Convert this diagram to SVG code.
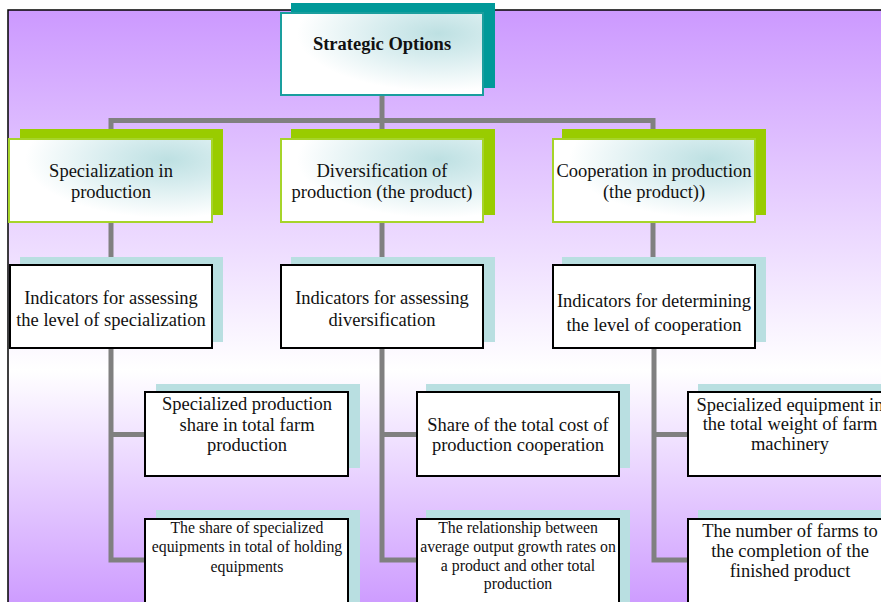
<svg xmlns="http://www.w3.org/2000/svg" width="881" height="602" viewBox="0 0 881 602">
<defs>
<linearGradient id="bg" x1="0" y1="0" x2="0" y2="1">
<stop offset="0" stop-color="#cc99ff"/>
<stop offset="0.6" stop-color="#ffffff"/>
<stop offset="1" stop-color="#cc99ff"/>
</linearGradient>
<radialGradient id="tealfill" cx="0.78" cy="0.25" r="0.7">
<stop offset="0" stop-color="#bde0e2"/>
<stop offset="0.4" stop-color="#d6ecee"/>
<stop offset="1" stop-color="#ffffff"/>
</radialGradient>
<style>
.conn{fill:none;stroke:#808080;stroke-width:5;stroke-linejoin:miter;stroke-linecap:butt}
text{font-family:'Liberation Serif','Times New Roman',serif;fill:#111;text-anchor:middle}
.t{font-size:18.5px}
.s{font-size:15.8px}
.b{font-size:18.5px;font-weight:bold}
.shTop{fill:#009999}
.boxTop{fill:url(#tealfill);stroke:#1a9e9e;stroke-width:2}
.shG{fill:#99cc00}
.boxG{fill:url(#tealfill);stroke:#a6d42a;stroke-width:2}
.shB{fill:#b9dfe1}
.boxW{fill:#ffffff;stroke:#000;stroke-width:2}
</style>
</defs>
<rect x="0" y="0" width="881" height="602" fill="#ffffff"/>
<rect x="8" y="10" width="880" height="600" fill="url(#bg)" stroke="#000" stroke-width="1.5"/>

<g id="connectors">
<path class="conn" d="M382,96 V120.5"/>
<path class="conn" d="M111,140 V120.5 H653 V140"/>
<path class="conn" d="M382,120.5 V140"/>
<path class="conn" d="M111,223 V264"/>
<path class="conn" d="M382,223 V264"/>
<path class="conn" d="M653,223 V264"/>
<path class="conn" d="M111,349 V560 H145"/>
<path class="conn" d="M111,434.5 H145"/>
<path class="conn" d="M382,349 V560 H417"/>
<path class="conn" d="M382,434.5 H417"/>
<path class="conn" d="M654,349 V560 H688"/>
<path class="conn" d="M654,434.5 H688"/>
</g>

<g id="strategic-options">
<rect class="shTop" x="291" y="3" width="204" height="85"/>
<rect class="boxTop" x="281" y="13" width="202" height="82"/>
<text class="b" x="382" y="50">Strategic Options</text>
</g>

<g id="specialization">
<rect class="shG" x="20" y="129" width="203" height="86"/>
<rect class="boxG" x="9" y="139" width="203" height="83"/>
<text class="t" x="111" y="177">Specialization in</text>
<text class="t" x="111" y="198">production</text>
</g>

<g id="diversification">
<rect class="shG" x="291" y="129" width="204" height="86"/>
<rect class="boxG" x="281" y="139" width="202" height="83"/>
<text class="t" x="382" y="177">Diversification of</text>
<text class="t" x="382" y="198">production (the product)</text>
</g>

<g id="cooperation">
<rect class="shG" x="562" y="129" width="204" height="86"/>
<rect class="boxG" x="553" y="139" width="202" height="83"/>
<text class="t" x="654" y="177">Cooperation in production</text>
<text class="t" x="654" y="198">(the product))</text>
</g>

<g id="ind-specialization">
<rect class="shB" x="20" y="257" width="203" height="85"/>
<rect class="boxW" x="10" y="265" width="202" height="83"/>
<text class="t" x="111" y="304">Indicators for assessing</text>
<text class="t" x="111" y="326">the level of specialization</text>
</g>

<g id="ind-diversification">
<rect class="shB" x="291" y="257" width="204" height="85"/>
<rect class="boxW" x="281" y="265" width="202" height="83"/>
<text class="t" x="382" y="304">Indicators for assessing</text>
<text class="t" x="382" y="326">diversification</text>
</g>

<g id="ind-cooperation">
<rect class="shB" x="562" y="257" width="204" height="85"/>
<rect class="boxW" x="553" y="265" width="202" height="83"/>
<text class="t" x="654" y="307">Indicators for determining</text>
<text class="t" x="654" y="331">the level of cooperation</text>
</g>

<g id="spec-share">
<rect class="shB" x="156" y="384" width="204" height="84"/>
<rect class="boxW" x="145" y="392" width="203" height="84"/>
<text class="t" x="247" y="410">Specialized production</text>
<text class="t" x="247" y="431">share in total farm</text>
<text class="t" x="247" y="451">production</text>
</g>

<g id="spec-equip">
<rect class="shB" x="156" y="510" width="204" height="100"/>
<rect class="boxW" x="145" y="519" width="203" height="100"/>
<text class="s" x="247" y="533">The share of specialized</text>
<text class="s" x="247" y="552">equipments in total of holding</text>
<text class="s" x="247" y="572">equipments</text>
</g>

<g id="div-share">
<rect class="shB" x="426" y="384" width="204" height="84"/>
<rect class="boxW" x="417" y="392" width="202" height="84"/>
<text class="t" x="518" y="431">Share of the total cost of</text>
<text class="t" x="518" y="451">production cooperation</text>
</g>

<g id="div-relationship">
<rect class="shB" x="426" y="510" width="204" height="100"/>
<rect class="boxW" x="417" y="519" width="202" height="100"/>
<text class="s" x="518" y="533">The relationship between</text>
<text class="s" x="518" y="552">average output growth rates on</text>
<text class="s" x="518" y="571">a product and other total</text>
<text class="s" x="518" y="589">production</text>
</g>

<g id="coop-equip">
<rect class="shB" x="698" y="384" width="204" height="84"/>
<rect class="boxW" x="688" y="392" width="203" height="84"/>
<text class="t" x="790" y="411">Specialized equipment in</text>
<text class="t" x="790" y="430">the total weight of farm</text>
<text class="t" x="790" y="450">machinery</text>
</g>

<g id="coop-farms">
<rect class="shB" x="698" y="510" width="204" height="100"/>
<rect class="boxW" x="688" y="519" width="203" height="100"/>
<text class="t" x="790" y="537">The number of farms to</text>
<text class="t" x="790" y="557">the completion of the</text>
<text class="t" x="790" y="577">finished product</text>
</g>
</svg>
